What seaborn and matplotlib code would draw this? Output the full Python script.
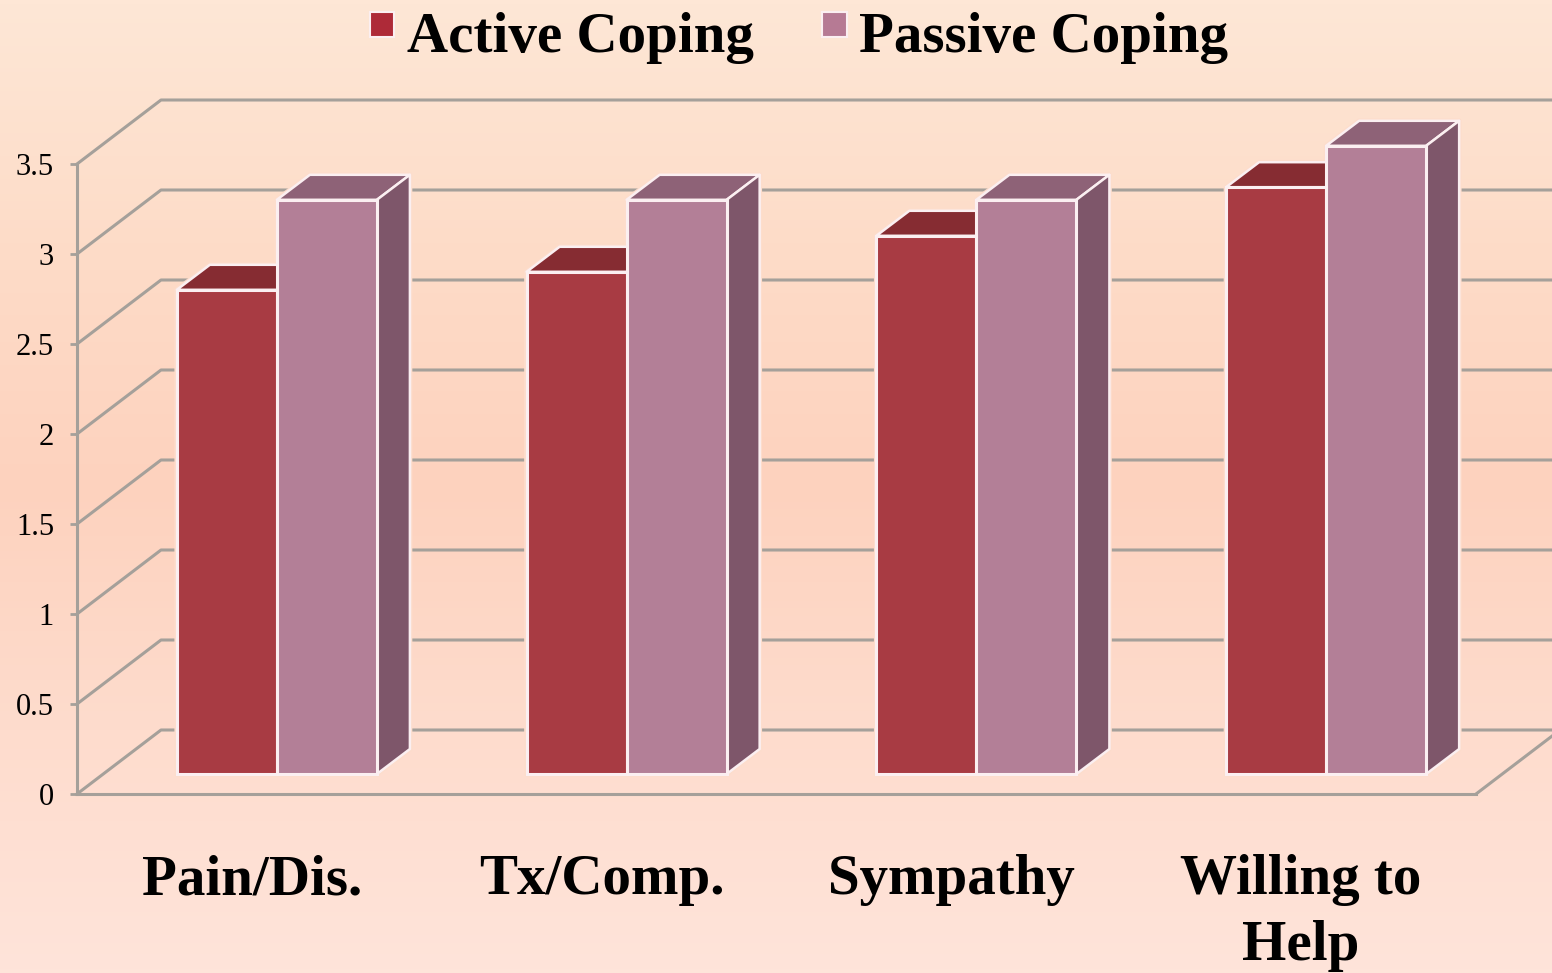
import matplotlib.pyplot as plt
import numpy as np
import pandas as pd
import seaborn as sns
from matplotlib.colors import LinearSegmentedColormap
from matplotlib.patches import Patch, Polygon

categories = ["Pain/Dis.", "Tx/Comp.", "Sympathy", "Willing to\nHelp"]
active_coping = [2.69, 2.79, 2.99, 3.26]
passive_coping = [3.19, 3.19, 3.19, 3.49]
y_ticks = [0, 0.5, 1, 1.5, 2, 2.5, 3, 3.5]
y_tick_labels = ["0", "0.5", "1", "1.5", "2", "2.5", "3", "3.5"]

# colours: front, top, side
active_colors = ("#A83B43", "#862C32", "#6E2A32")
passive_colors = ("#B37F97", "#8E6277", "#7E566A")
legend_colors = ("#AE2A38", "#B67A94")
edge_color = "#FBEFF1"
halo_color = "#FDDDCC"
grid_color = "#A5A09A"
background_colors = ["#FEE7D6", "#FDDCC8", "#FDD2BE", "#FEDCCD", "#FEE4DA"]

W, H = 1552, 973

sns.set_theme(style="white")
plt.rcParams["font.family"] = ["Liberation Serif", "DejaVu Serif"]

fig = plt.figure(figsize=(W / 100, H / 100), dpi=100)

# background gradient
bg = fig.add_axes([0, 0, 1, 1], zorder=-1)
cmap = LinearSegmentedColormap.from_list("bg", background_colors)
bg.imshow(np.linspace(0, 1, 256)[:, None], cmap=cmap, aspect="auto")
bg.axis("off")

# the real axes is the front edge of the 3D box
ax = fig.add_axes([77 / W, (H - 794) / H, (1476 - 77) / W, (794 - 164) / H])
ax.patch.set_alpha(0)

data = pd.DataFrame(
    {
        "category": categories,
        "Active Coping": active_coping,
        "Passive Coping": passive_coping,
    }
).melt(id_vars="category", var_name="coping", value_name="score")

sns.barplot(
    data=data,
    x="category",
    y="score",
    hue="coping",
    palette=[active_colors[0], passive_colors[0]],
    saturation=1,
    width=0.572,
    gap=0,
    edgecolor=edge_color,
    linewidth=2.2,
    legend=False,
    zorder=3,
    ax=ax,
)
ax.set_xlim(-0.5, 3.5)
ax.set_ylim(0, 3.5)
ax.set_xlabel("")
ax.set_ylabel("")

unit_x = (1476 - 77) / 4
unit_y = (794 - 164) / 3.5
wall_dx, wall_dy = 84 / unit_x, 64 / unit_y
bar_dx, bar_dy = 33 / unit_x, 25 / unit_y
shift_x, shift_y = 25 / unit_x, 20 / unit_y
right_edge = -0.5 + (W - 77) / unit_x


def add_face(points, color, edge=edge_color, lw=1.8, zorder=2):
    ax.add_patch(
        Polygon(
            points,
            closed=True,
            facecolor=color,
            edgecolor=edge,
            linewidth=lw,
            joinstyle="round",
            clip_on=False,
            zorder=zorder,
        )
    )


# walls and grid lines
for v in y_ticks:
    ax.plot(
        [-0.5, -0.5 + wall_dx, right_edge],
        [v, v + wall_dy, v + wall_dy],
        color=grid_color,
        lw=2.2,
        clip_on=False,
        zorder=1,
    )
ax.plot(
    [3.5, 3.5 + wall_dx],
    [0, wall_dy],
    color=grid_color,
    lw=2.2,
    clip_on=False,
    zorder=1,
)

# bars sit in the middle of the floor, add top and side faces
for container, colors in zip(ax.containers, [active_colors, passive_colors]):
    for bar in container:
        bar.set_clip_on(False)
        bar.set_x(bar.get_x() + shift_x)
        bar.set_y(shift_y)
        x0, x1 = bar.get_x(), bar.get_x() + bar.get_width()
        y0, y1 = shift_y, shift_y + bar.get_height()
        top = [(x0, y1), (x1, y1), (x1 + bar_dx, y1 + bar_dy), (x0 + bar_dx, y1 + bar_dy)]
        side = [(x1, y0), (x1 + bar_dx, y0 + bar_dy), (x1 + bar_dx, y1 + bar_dy), (x1, y1)]
        # soft glow that keeps the grid lines off the bar
        add_face([(x0, y0), (x1, y0)] + side[1:3] + top[3:] + [(x0, y1)], halo_color, halo_color, 3.5, 1.5)
        add_face(top, colors[1])
        add_face(side, colors[2])

ax.set_yticks(y_ticks, y_tick_labels)
ax.tick_params(axis="y", length=5, width=2, color=grid_color, pad=11.5, labelsize=22, left=True)
ax.tick_params(axis="x", length=0, pad=43.5, labelsize=41, bottom=False)
for label in ax.get_xticklabels():
    label.set_fontweight("bold")
    label.set_linespacing(1.34)
    label.set_color("black")
for label in ax.get_yticklabels():
    label.set_color("black")

sns.despine(ax=ax, top=True, right=True)
for side_name in ["left", "bottom"]:
    ax.spines[side_name].set_color(grid_color)
    ax.spines[side_name].set_linewidth(2.2)
    ax.spines[side_name].set_zorder(1)

legend = ax.legend(
    handles=[
        Patch(facecolor=legend_colors[0], edgecolor=edge_color, lw=1.5, label="Active Coping"),
        Patch(facecolor=legend_colors[1], edgecolor=edge_color, lw=1.5, label="Passive Coping"),
    ],
    loc="upper left",
    bbox_to_anchor=(370 / W, 1 - 12 / H),
    bbox_transform=fig.transFigure,
    ncol=2,
    frameon=False,
    borderpad=0,
    borderaxespad=0,
    handlelength=0.43,
    handleheight=0.43,
    handletextpad=0.22,
    columnspacing=1.2,
    labelcolor="black",
    prop={"family": "Liberation Serif", "weight": "bold", "size": 41},
)
for swatch in legend.get_patches():
    swatch.set_y(swatch.get_y() + 7)
    swatch.set_height(18)

fig.savefig("out.png", dpi=100)
